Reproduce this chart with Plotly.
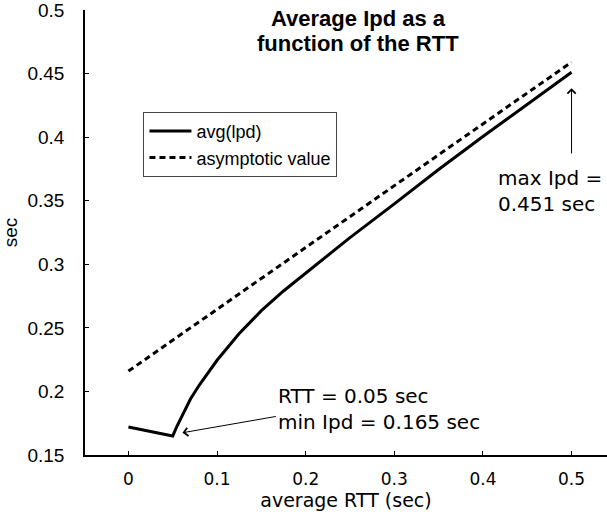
import plotly.graph_objects as go

# values
rtt = [0, 0.05, 0.055, 0.06, 0.07, 0.08, 0.09, 0.1, 0.125, 0.15, 0.175, 0.2, 0.25, 0.3, 0.35, 0.4, 0.45, 0.5]
avg_ipd = [0.172, 0.165, 0.173, 0.180, 0.194, 0.205, 0.215, 0.2245, 0.2455, 0.2635, 0.2790, 0.2932,
           0.321, 0.3475, 0.3745, 0.4005, 0.426, 0.451]
rtt_asym = [0, 0.25, 0.5]
asym_ipd = [0.216, 0.3375, 0.459]

fig = go.Figure()
fig.add_trace(go.Scatter(x=rtt, y=avg_ipd, mode="lines", name="avg(lpd)",
                         line=dict(color="black", width=3)))
fig.add_trace(go.Scatter(x=rtt_asym, y=asym_ipd, mode="lines", name="asymptotic value",
                         line=dict(color="black", width=3, dash="6px,4px")))

sans = "Liberation Sans, Arial, sans-serif"
dv = "DejaVu Sans, Verdana, sans-serif"

# title, two lines set close together
title_lines = ["<b>Average Ipd as a</b>", "<b>function of the RTT</b>"]
for i, t in enumerate(title_lines):
    fig.add_annotation(x=(358 - 85) / 522, y=(455 - (19 + i * 24)) / 445,
                       xref="x domain", yref="y domain",
                       text=t, showarrow=False, yanchor="middle", xanchor="center",
                       font=dict(family=sans, size=22, color="black"))

# min annotation
fig.add_annotation(x=0.061, y=0.1675, ax=0.168, ay=0.1805, xref="x", yref="y",
                   axref="x", ayref="y", text="", showarrow=True, arrowhead=4,
                   arrowsize=1.6, arrowwidth=1, arrowcolor="black")
fig.add_annotation(x=0.166, y=0.1865, xref="x", yref="y", xanchor="left", yanchor="middle",
                   text="RTT = 0.05 sec<br>min Ipd = 0.165 sec", align="left", showarrow=False,
                   font=dict(family=dv, size=20, color="black"))

# max annotation
fig.add_annotation(x=0.5, y=0.4385, ax=0.5, ay=0.386, xref="x", yref="y",
                   axref="x", ayref="y", text="", showarrow=True, arrowhead=4,
                   arrowsize=1.6, arrowwidth=1, arrowcolor="black")
fig.add_annotation(x=0.4145, y=0.3575, xref="x", yref="y", xanchor="left", yanchor="middle",
                   text="max Ipd =<br>0.451 sec", align="left", showarrow=False,
                   font=dict(family=dv, size=20, color="black"))

fig.update_layout(
    width=607, height=517,
    margin=dict(l=85, r=0, t=10, b=62),
    paper_bgcolor="white", plot_bgcolor="white",
    showlegend=True,
    legend=dict(x=0.112, y=0.771, xanchor="left", yanchor="top",
                bordercolor="#444", borderwidth=1, bgcolor="white",
                font=dict(family=sans, size=18, color="black"),
                tracegroupgap=0, itemwidth=42),
)
fig.update_xaxes(range=[-0.049, 0.54], tickvals=[0, 0.1, 0.2, 0.3, 0.4, 0.5],
                 ticktext=["0", "0.1", "0.2", "0.3", "0.4", "0.5"], automargin=False,
                 showgrid=False, zeroline=False, showline=True, linecolor="black", linewidth=1.5,
                 ticks="inside", ticklen=4, tickcolor="black", ticklabelstandoff=8,
                 ticklabeloverflow="allow",
                 tickfont=dict(family=dv, size=17, color="black"),
                 title=dict(text="average RTT (sec)", font=dict(family=dv, size=19, color="black"),
                            standoff=6))
fig.update_yaxes(range=[0.15, 0.5], tickvals=[0.15, 0.2, 0.25, 0.3, 0.35, 0.4, 0.45, 0.5],
                 ticktext=["0.15", "0.2", "0.25", "0.3", "0.35", "0.4", "0.45", "0.5"],
                 automargin=False,
                 showgrid=False, zeroline=False, showline=True, linecolor="black", linewidth=1.5,
                 ticks="inside", ticklen=4, tickcolor="black", ticklabelstandoff=15,
                 ticklabeloverflow="allow",
                 tickfont=dict(family=sans, size=19, color="black"),
                 title=dict(text="sec", font=dict(family=sans, size=19, color="black"), standoff=6))

# page body has a default 8px margin; drop it so the figure sits at the window corner
fig.write_html("out.html", config={"displayModeBar": False},
               post_script="document.body.style.margin='0';")
